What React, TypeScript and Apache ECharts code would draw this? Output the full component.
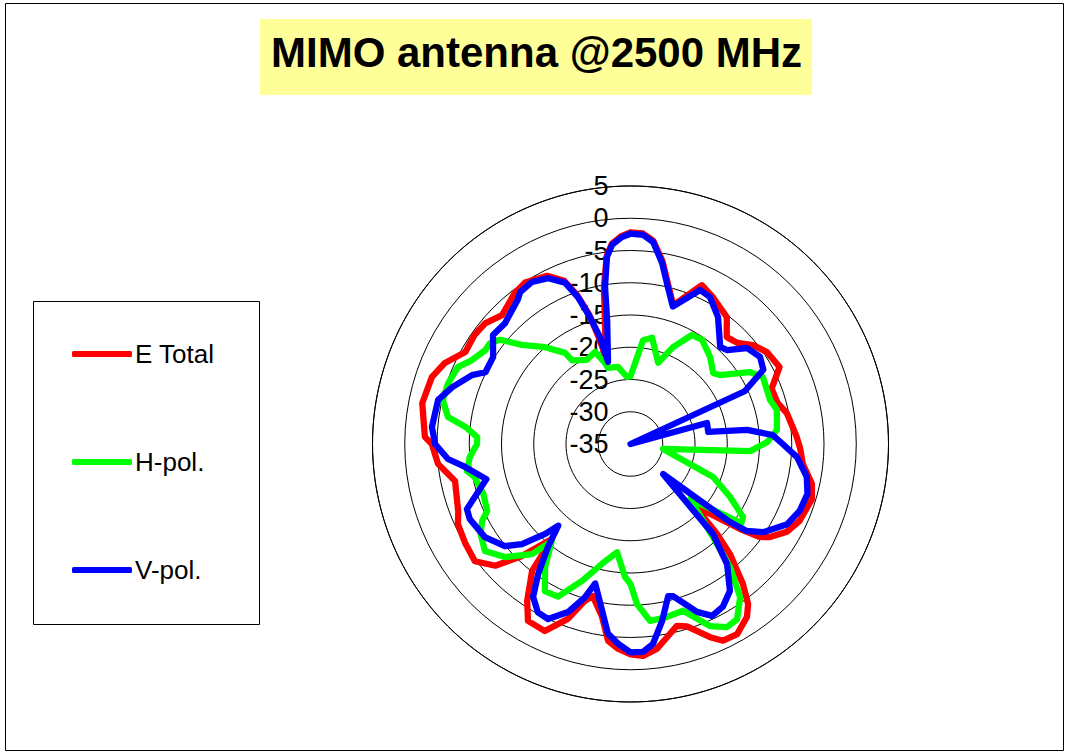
import React, { useEffect, useRef } from "react";
import * as echarts from "echarts";

const FONT = "'Liberation Sans', Arial, sans-serif";

const titleText = "MIMO antenna @2500 MHz";
const seriesNames = ["E Total", "H-pol.", "V-pol."];
const seriesColors = ["#ff0000", "#00ff00", "#0000ff"];

// radial axis (dB)
const radiusMin = -35;
const radiusMax = 5;
const radiusStep = 5;

// E Total: angle (deg, clockwise from top) and level (dB)
const angleE = [0, 3.4, 6.4, 9.9, 13.4, 17.1, 24.2, 29.3, 37.2, 42, 46.5, 51.1, 56, 62.7, 68.6, 74.5, 78.8, 87.6, 91.4, 96.6, 102.4, 106.9, 114.4, 119.3, 123.7, 125.7, 127.8, 134, 136.1, 137.9, 141.2, 143.7, 146, 150.7, 154.8, 157.6, 162.8, 165.7, 169.3, 172.6, 176.6, 180, 183.5, 186.5, 189.4, 193.9, 196.2, 199.7, 204.6, 210.1, 213.4, 217.8, 219.6, 224.4, 228, 233, 238.9, 245.1, 248.5, 258.1, 264.1, 270, 272, 281.1, 288.6, 293.6, 299.1, 305, 309.7, 315.1, 322.6, 326.9, 333.6, 337.9, 340.3, 342.3, 343.5, 344.2, 350.4, 352.8, 354.7, 357.6, 360];
const valueE = [-2.2, -2.3, -3.3, -6.2, -9.7, -12.5, -8.0, -8.9, -10.3, -12.7, -12.2, -10.6, -9.5, -9.0, -11.5, -11.3, -10.3, -9.2, -8.7, -8.1, -6.2, -5.6, -6.2, -7.2, -9.0, -10.3, -13.5, -21.2, -15.6, -12.0, -7.2, -4.2, -2.7, -1.2, -1.3, -2.6, -5.4, -5.9, -4.5, -3.0, -2.1, -2.4, -3.2, -4.3, -7.9, -10.7, -9.7, -6.2, -3.1, -3.3, -5.9, -10.1, -15.9, -10.5, -6.8, -4.8, -5.1, -5.5, -6.3, -7.2, -5.0, -4.2, -3.1, -2.1, -2.5, -3.6, -5.7, -5.5, -5.7, -6.8, -5.5, -5.1, -5.9, -7.7, -10.5, -14.0, -18.0, -21.0, -10.3, -5.6, -3.8, -2.7, -2.2];

// H-pol.
const angleH = [0, 6.9, 11.5, 18.8, 23.7, 29.4, 34.5, 42.4, 49.3, 52.4, 58.9, 63.2, 72.5, 76.9, 84.5, 89.2, 93.4, 98.7, 111.8, 118, 123, 125.5, 132.7, 138.4, 141, 144.4, 148.7, 152.2, 156.4, 162.5, 168.1, 173.7, 177.7, 180, 182.4, 187.1, 193.4, 199.5, 205.4, 210.2, 214.8, 219, 221.8, 228, 233.7, 239.1, 242.6, 245, 251.3, 258, 260.6, 265.4, 270, 272.6, 275.9, 278.4, 283.2, 288.5, 294, 297.9, 302.9, 305.7, 308.6, 312.4, 318.6, 324.3, 325.1, 332.6, 338.9, 342.5, 343.5, 350.8, 357, 360];
const valueH = [-24.5, -18.8, -18.2, -21.7, -18.6, -15.6, -15.4, -16.7, -18.1, -17.5, -13.4, -12.0, -12.3, -11.7, -12.2, -13.8, -16.4, -29.9, -21.2, -17.5, -14.2, -13.9, -22.4, -15.8, -10.5, -5.8, -3.2, -2.9, -4.2, -7.9, -7.6, -7.4, -10.2, -13.3, -14.4, -18.1, -15.9, -12.5, -8.8, -8.6, -11.8, -15.6, -12.1, -8.8, -7.0, -7.9, -9.1, -10.5, -10.9, -10.3, -9.3, -10.0, -11.2, -11.2, -9.3, -6.4, -5.1, -5.2, -5.7, -7.2, -8.2, -8.2, -9.1, -12.2, -15.0, -17.6, -19.2, -20.3, -19.7, -21.8, -22.7, -22.9, -24.6, -24.5];

// V-pol.
const angleV = [0, 3.4, 6.4, 9.9, 13.4, 17.1, 24.3, 28.4, 34.6, 42.7, 45.8, 50.5, 56.1, 60.8, 65.2, 69, 74.6, 81.2, 83.1, 86.4, 90, 94.5, 100.6, 105.7, 111.6, 117.1, 123.6, 126.8, 128.1, 132.7, 137.5, 141.2, 145.9, 150.4, 154.6, 158.4, 164.4, 166.1, 169.9, 173.6, 176.6, 180, 183.6, 186.8, 194.2, 196.6, 200.4, 205.2, 208.8, 212.5, 215.4, 218.7, 221.5, 223.5, 227.3, 230.9, 237.4, 245, 248.3, 256.3, 262.1, 265.3, 270, 274.9, 282.9, 287.7, 293.5, 296.3, 302.3, 308.4, 313.9, 322, 324, 328.7, 333.6, 337.9, 340.3, 342.3, 344.1, 344.7, 349.3, 350.8, 352.8, 354.7, 357.6, 360];
const valueV = [-2.4, -2.5, -3.5, -6.5, -10, -12.7, -8.8, -9.1, -11.1, -14.5, -14.1, -11.6, -10.8, -11.4, -15.5, -35, -22.7, -22.8, -16.8, -12.9, -11.4, -9.1, -7.2, -6.5, -6.8, -7.7, -10.3, -12.5, -15.4, -28.1, -16.1, -11.1, -7.5, -6.0, -5.5, -7.0, -10.5, -10.7, -7.1, -3.8, -2.7, -2.7, -4.0, -5.4, -12.7, -10.2, -7.2, -5.0, -5.2, -6.9, -10.3, -14.5, -18.1, -15.8, -12.1, -9.9, -8.2, -7.5, -7.7, -12.0, -9.1, -6.6, -4.7, -4.1, -4.4, -6.0, -8.2, -9.9, -9.8, -7.8, -8.0, -6.6, -5.9, -5.6, -6.3, -8.0, -10.8, -14.4, -17.8, -21.8, -15.5, -10.3, -5.8, -4.0, -2.9, -2.4];

const toPolar = (angles: number[], values: number[]) =>
  angles.map((a, i) => [values[i], a]);

export default function App() {
  const ref = useRef<HTMLDivElement>(null);
  useEffect(() => {
    if (!ref.current) return;
    const chart = echarts.init(ref.current, undefined, { renderer: "svg" });
    const lineSeries = [
      toPolar(angleE, valueE),
      toPolar(angleH, valueH),
      toPolar(angleV, valueV),
    ].map((data, i) => ({
      name: seriesNames[i],
      type: "line",
      coordinateSystem: "polar",
      data,
      showSymbol: false,
      symbol: "none",
      smooth: false,
      clip: false,
      z: 3 + i,
      color: seriesColors[i],
      lineStyle: { color: seriesColors[i], width: 6.3, cap: "round", join: "round" },
    }));
    chart.setOption({
      animation: false,
      backgroundColor: "#ffffff",
      textStyle: { fontFamily: FONT },
      title: {
        text: titleText,
        left: 260,
        top: 19,
        padding: [12, 10, 22, 11],
        backgroundColor: "#ffff99",
        textStyle: {
          fontFamily: FONT,
          fontSize: 42,
          fontWeight: "bold",
          color: "#000",
          lineHeight: 42,
        },
      },
      legend: {
        data: seriesNames,
        orient: "vertical",
        left: 72,
        top: 341,
        itemGap: 82,
        itemWidth: 60,
        itemHeight: 6,
        icon: "roundRect",
        padding: 0,
        textStyle: { fontFamily: FONT, fontSize: 26, color: "#000", lineHeight: 24, padding: [0, 0, 0, -2] },
      },
      graphic: [
        {
          type: "rect",
          shape: { x: 5.5, y: 3.5, width: 1058, height: 747 },
          style: { fill: "none", stroke: "#000", lineWidth: 1 },
          silent: true,
        },
        {
          type: "rect",
          shape: { x: 33.5, y: 301.5, width: 226, height: 323 },
          style: { fill: "none", stroke: "#000", lineWidth: 1 },
          silent: true,
        },
      ],
      polar: { center: [630.5, 444], radius: 258 },
      angleAxis: {
        type: "value",
        min: 0,
        max: 360,
        startAngle: 90,
        clockwise: true,
        axisLine: { show: true, lineStyle: { color: "#000", width: 1 } },
        axisTick: { show: false },
        axisLabel: { show: false },
        splitLine: { show: false },
      },
      radiusAxis: {
        type: "value",
        min: radiusMin,
        max: radiusMax,
        interval: radiusStep,
        axisLine: { show: false },
        axisTick: { show: false },
        axisLabel: {
          show: true,
          fontFamily: FONT,
          fontSize: 27,
          color: "#000",
          align: "right",
          verticalAlign: "middle",
          margin: 22,
        },
        splitLine: { show: true, lineStyle: { color: "#000", width: 1 } },
      },
      series: lineSeries,
    });
    return () => chart.dispose();
  }, []);
  return (
    <div
      ref={ref}
      style={{ position: "fixed", left: 0, top: 0, width: 1065, height: 753 }}
    />
  );
}
